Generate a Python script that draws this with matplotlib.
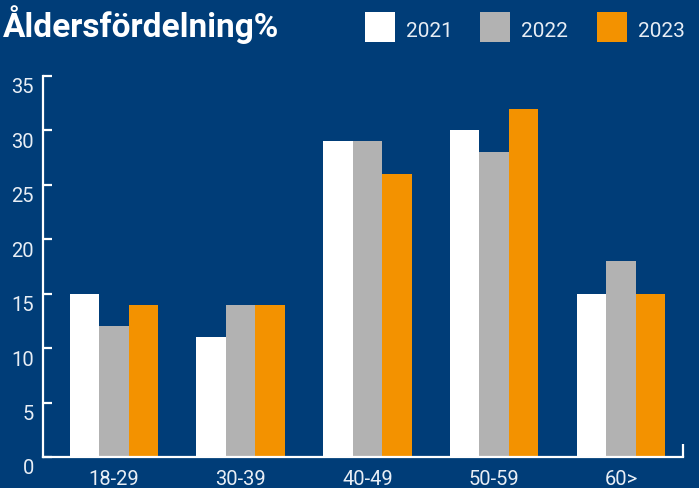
import matplotlib
matplotlib.use("Agg")
import matplotlib.pyplot as plt
import matplotlib.transforms as mtransforms
from matplotlib.patches import Rectangle
import numpy as np

categories = ["18-29", "30-39", "40-49", "50-59", "60>"]
years = ["2021", "2022", "2023"]
v2021 = [15, 11, 29, 30, 15]
v2022 = [12, 14, 29, 28, 18]
v2023 = [14, 14, 26, 32, 15]
yticks = [0, 5, 10, 15, 20, 25, 30, 35]

BG = "#003d78"
colors = ["#ffffff", "#b2b2b2", "#f39200"]
TXT = "#e8eef5"
plt.rcParams['font.family'] = ["Roboto", "DejaVu Sans"]

W, H = 699, 489
fig = plt.figure(figsize=(W / 100, H / 100), dpi=100, facecolor=BG)
ax = fig.add_axes([43 / W, (H - 458) / H, (683 - 43) / W, (458 - 77) / H])
ax.set_facecolor(BG)

x = np.arange(len(categories))
bw = 0.233
for i, (vals, c) in enumerate(zip([v2021, v2022, v2023], colors)):
    ax.bar(x + (i - 1) * bw, vals, width=bw, color=c, edgecolor="none", zorder=2)

ax.set_xlim(-0.56, 4.49)
ax.set_ylim(0, 35)
ax.set_yticks(yticks)
ax.set_xticks(x)
ax.set_xticklabels(categories)
for s in ["top", "right"]:
    ax.spines[s].set_visible(False)
for s in ["left", "bottom"]:
    ax.spines[s].set_color("white")
    ax.spines[s].set_linewidth(1.6)
ax.tick_params(axis="y", direction="in", length=6.5, width=1.6, colors="white",
               labelsize=14.5, pad=6.5)
ax.tick_params(axis="x", length=0, colors="white", labelsize=14.5, pad=8.5)
off = mtransforms.ScaledTranslation(0, -9 / 100, fig.dpi_scale_trans)
for lab in ax.get_yticklabels():
    lab.set_color(TXT)
    lab.set_transform(lab.get_transform() + off)
for lab in ax.get_xticklabels():
    lab.set_color(TXT)
# right end small tick on x axis
ax.plot([1, 1], [0, 0.035], transform=ax.transAxes, color="white", lw=1.6,
        clip_on=False, solid_capstyle="butt")

fig.text(3 / W, 1 - 37 / H, "Åldersfördelning%", color="white", fontsize=24,
         fontweight="bold", va="baseline", ha="left")

legend_x = [365, 480, 597]
for lx, yr, c in zip(legend_x, years, colors):
    fig.patches.append(Rectangle((lx / W, 1 - 43 / H), 30 / W, 30 / H,
                                 transform=fig.transFigure, facecolor=c,
                                 edgecolor="none"))
    fig.text((lx + 41) / W, 1 - 37 / H, yr, color=TXT, fontsize=15,
             va="baseline", ha="left")

fig.savefig("out.png", dpi=100, facecolor=BG)
